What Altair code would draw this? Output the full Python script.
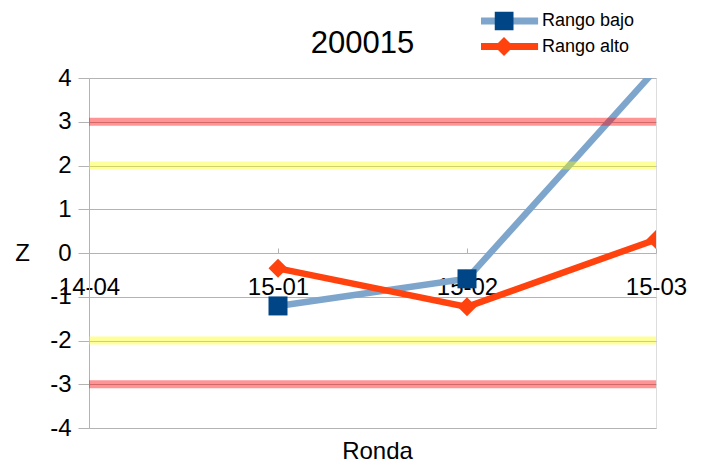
import altair as alt
import pandas as pd

categories = ["14-04", "15-01", "15-02", "15-03"]
rango_bajo = [None, -1.21, -0.59, 4.2]
rango_alto = [None, -0.35, -1.23, 0.31]
series_names = ["Rango bajo", "Rango alto"]
line_colors = ["#7ea6cc", "#ff420e"]
marker_colors = ["#004586", "#ff420e"]
marker_shapes = ["square", "diamond"]
red_levels = [3, -3]
yellow_levels = [2, -2]
y_ticks = [-4, -3, -2, -1, 0, 1, 2, 3, 4]

rows = []
for i, (name, vals) in enumerate(zip(series_names, [rango_bajo, rango_alto])):
    for c, v in zip(categories, vals):
        rows.append({"Ronda": c, "Z": v, "serie": name, "serie2": name, "orden": i})
df = pd.DataFrame(rows)
red_df = pd.DataFrame({"nivel": red_levels})
yellow_df = pd.DataFrame({"nivel": yellow_levels})

FONT = "Liberation Sans"
GRID = "#b3b3b3"

y_scale = alt.Scale(domain=[-4, 4], nice=False, zero=False)
y_axis = alt.Axis(values=y_ticks, grid=True, gridColor=GRID, domainColor=GRID, tickColor=GRID,
                  tickSize=11, labelPadding=7, labelFontSize=24, labelFont=FONT, labelColor="black",
                  labelExpr="replace(datum.label, '\u2212', '-')",
                  title="Z", titleAngle=0, titleFontSize=24, titleFont=FONT, titleFontWeight="normal",
                  titleX=-67, titleY=175, titleAlign="center", titleBaseline="middle", titleColor="black")

x_scale = alt.Scale(type="point", domain=categories, padding=0)
x_axis_bottom = alt.Axis(orient="bottom", offset=-175, domain=False, ticks=False, grid=False,
                         labelPadding=22, labelFontSize=24, labelFont=FONT, labelAngle=0, labelColor="black",
                         labelOverlap=False, labelBound=False, labelFlush=False,
                         title="Ronda", titleFontSize=24, titleFont=FONT, titleFontWeight="normal",
                         titleY=205, titleX=288, titleAlign="center", titleBaseline="alphabetic",
                         titleColor="black")
x_axis_top = alt.Axis(orient="top", offset=-175, domain=False, labels=False, ticks=True, tickSize=5,
                      tickColor=GRID, grid=False, title=None)

sort_field = alt.EncodingSortField(field="orden", op="min")

line_legend = alt.Legend(orient="none", legendX=392, legendY=-66.5, title=None,
                         symbolType="M-4.64,0H4.64", symbolSize=361, symbolStrokeWidth=7,
                         labelFontSize=18, labelFont=FONT, labelColor="black",
                         labelOffset=35, rowPadding=6.5, padding=0, clipHeight=19)

lines = alt.Chart(df).mark_line(strokeWidth=6.5, clip=True).encode(
    x=alt.X("Ronda:N", scale=x_scale, axis=x_axis_bottom),
    y=alt.Y("Z:Q", scale=y_scale, axis=y_axis),
    color=alt.Color("serie:N", scale=alt.Scale(domain=series_names, range=line_colors),
                    legend=line_legend),
)

pt_legend = alt.Legend(orient="none", legendX=405.5, legendY=-66.5, title=None, symbolSize=361,
                       symbolStrokeWidth=0, labelFontSize=18, labelFont=FONT, labelOpacity=0,
                       labelOffset=28.5, rowPadding=6.5, padding=0, clipHeight=19)

points = alt.Chart(df).mark_point(filled=True, size=361, opacity=1, clip=True).encode(
    x=alt.X("Ronda:N", scale=x_scale, axis=x_axis_top),
    y=alt.Y("Z:Q", scale=y_scale, axis=y_axis),
    shape=alt.Shape("serie2:N", sort=sort_field, scale=alt.Scale(range=marker_shapes), legend=pt_legend),
    fill=alt.Fill("serie2:N", sort=sort_field, scale=alt.Scale(range=marker_colors), legend=pt_legend),
).transform_filter("isValid(datum.Z) && datum.Z <= 4")

red = alt.Chart(red_df).mark_rule(color="#ff0000", opacity=0.42, strokeWidth=8).encode(
    y=alt.Y("nivel:Q", scale=y_scale, axis=y_axis)
)
yellow = alt.Chart(yellow_df).mark_rule(color="#ffff00", opacity=0.4, strokeWidth=8).encode(
    y=alt.Y("nivel:Q", scale=y_scale, axis=y_axis)
)

chart = alt.layer(lines, points, red, yellow).resolve_axis(x="independent").properties(
    width=567, height=350,
    autosize=alt.AutoSizeParams(type="none"),
    padding={"left": 81, "top": 70, "right": 40, "bottom": 31},
    title=alt.TitleParams("200015", fontSize=31, font=FONT, fontWeight="normal", anchor="middle",
                          dx=-10, offset=-72.5, baseline="alphabetic", color="black"),
).configure_view(stroke=GRID, strokeWidth=1).configure(font=FONT)

chart.save("out.html", embed_options={"renderer": "svg", "actions": False})
